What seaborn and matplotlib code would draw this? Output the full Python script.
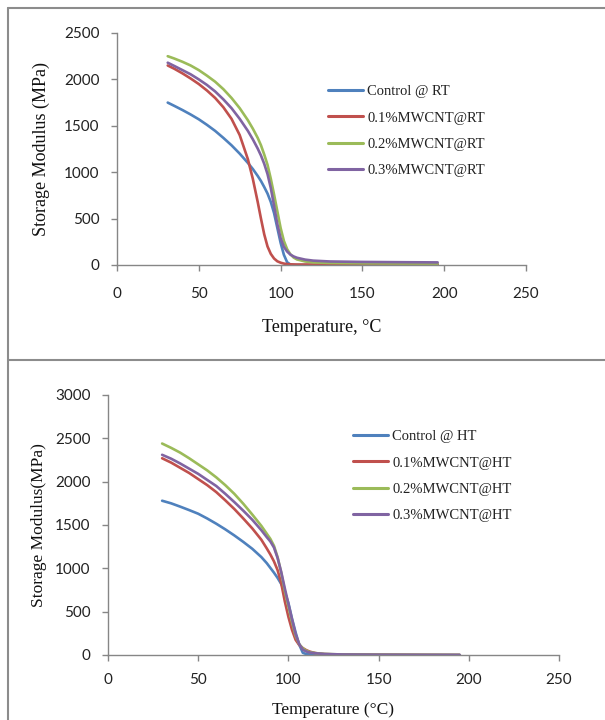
import numpy as np
import pandas as pd
import seaborn as sns
from matplotlib import pyplot as plt
from matplotlib.lines import Line2D

# --- data ---
temp_rt = [31, 35, 40, 45, 50, 55, 60, 65, 70, 75, 80, 83, 86, 88, 90, 92, 94, 96, 98, 100,
           102, 104, 106, 108, 110, 115, 120, 130, 150, 175, 196]
control_rt = [1750, 1715, 1670, 1622, 1570, 1510, 1445, 1370, 1290, 1200, 1100, 1035, 960, 905, 840, 770, 680, 560, 400, 240,
              110, 30, 5, 0, 0, 0, 0, 0, 0, 0, 0]
mwcnt01_rt = [2150, 2115, 2065, 2010, 1950, 1880, 1800, 1700, 1575, 1400, 1140, 930, 680, 500, 330, 200, 120, 70, 40, 25,
              15, 10, 7, 6, 5, 5, 5, 5, 5, 5, 5]
mwcnt02_rt = [2250, 2225, 2190, 2150, 2100, 2040, 1975, 1895, 1800, 1690, 1560, 1470, 1370, 1290, 1190, 1080, 930, 760, 580, 400,
              260, 170, 115, 80, 60, 38, 28, 22, 18, 16, 15]
mwcnt03_rt = [2180, 2145, 2100, 2055, 2000, 1940, 1870, 1785, 1690, 1575, 1445, 1355, 1255, 1180, 1090, 980, 830, 640, 440, 290,
              195, 145, 112, 92, 78, 58, 47, 38, 33, 30, 28]

temp_ht = [30, 35, 40, 45, 50, 55, 60, 65, 70, 75, 80, 85, 88, 90, 92, 94, 96, 98, 100, 102,
           104, 106, 108, 110, 112, 115, 120, 130, 150, 175, 195]
control_ht = [1780, 1750, 1712, 1672, 1630, 1575, 1515, 1450, 1380, 1305, 1225, 1130, 1060, 1005, 950, 890, 820, 730, 600, 420,
              260, 120, 25, 10, 8, 5, 3, 2, 1, 0, 0]
mwcnt01_ht = [2270, 2220, 2160, 2100, 2030, 1960, 1880, 1785, 1685, 1575, 1460, 1330, 1230, 1160, 1080, 980, 830, 620, 440, 290,
              175, 115, 80, 55, 38, 22, 10, 5, 3, 1, 0]
mwcnt02_ht = [2440, 2390, 2335, 2270, 2200, 2130, 2050, 1960, 1860, 1745, 1620, 1490, 1400, 1340, 1260, 1130, 950, 740, 560, 380,
              220, 125, 75, 48, 32, 22, 12, 6, 3, 1, 0]
mwcnt03_ht = [2310, 2265, 2210, 2150, 2090, 2020, 1950, 1860, 1765, 1665, 1560, 1440, 1360, 1310, 1240, 1120, 960, 770, 590, 410,
              240, 125, 62, 40, 28, 20, 12, 6, 3, 1, 0]

labels_rt = ["Control @ RT", "0.1%MWCNT@RT", "0.2%MWCNT@RT", "0.3%MWCNT@RT"]
labels_ht = ["Control @ HT", "0.1%MWCNT@HT", "0.2%MWCNT@HT", "0.3%MWCNT@HT"]
colors = ["#4F81BD", "#C0504D", "#9BBB59", "#8064A2"]

x_ticks = [0, 50, 100, 150, 200, 250]
y_ticks_rt = [0, 500, 1000, 1500, 2000, 2500]
y_ticks_ht = [0, 500, 1000, 1500, 2000, 2500, 3000]


def long_frame(temps, series, names):
    rows = []
    for name, vals in zip(names, series):
        rows.append(pd.DataFrame({"Temperature": temps, "Modulus": vals, "Series": name}))
    return pd.concat(rows, ignore_index=True)


sns.set_style("white")
plt.rcParams["font.family"] = ["Lato", "DejaVu Sans"]

W, H = 605, 720
fig = plt.figure(figsize=(W / 100, H / 100), dpi=100)

serif = "Liberation Serif"
grey = "#868686"


def panel(box, df, names, y_ticks, xlabel, ylabel, label_fs, xpad, leg_xy, xlab_y, ylab_x):
    left, top, right, bottom = box
    ax = fig.add_axes([left / W, 1 - bottom / H, (right - left) / W, (bottom - top) / H])
    sns.lineplot(data=df, x="Temperature", y="Modulus", hue="Series", hue_order=names,
                 palette=colors, linewidth=1.9, ax=ax, legend=True)
    ax.set_xlim(0, 250)
    ax.set_ylim(0, y_ticks[-1])
    ax.set_xticks(x_ticks)
    ax.set_yticks(y_ticks)
    for s in ["top", "right"]:
        ax.spines[s].set_visible(False)
    for s in ["left", "bottom"]:
        ax.spines[s].set_color(grey)
        ax.spines[s].set_linewidth(1.0)
    ax.tick_params(axis="y", direction="out", length=4, width=1, color=grey, pad=8.5, labelsize=11, left=True)
    ax.tick_params(axis="x", direction="out", length=4, width=1, color=grey, pad=xpad, labelsize=11, bottom=True)
    for t in ax.get_xticklabels() + ax.get_yticklabels():
        t.set_color("#222222")

    ax.set_xlabel(xlabel, fontfamily=serif, fontsize=label_fs, color="#111111")
    ax.set_ylabel(ylabel, fontfamily=serif, fontsize=label_fs, color="#111111")
    ax.xaxis.label.set_va("center")
    ax.yaxis.label.set_va("center")
    ax.xaxis.set_label_coords(0.5, (bottom - xlab_y) / (bottom - top))
    ax.yaxis.set_label_coords((ylab_x - left) / (right - left), 0.5)

    handles, labs = ax.get_legend_handles_labels()
    leg = ax.legend(handles, labs, loc="upper left",
                    bbox_to_anchor=(leg_xy[0] / W, 1 - leg_xy[1] / H),
                    bbox_transform=fig.transFigure, frameon=False,
                    borderpad=0, borderaxespad=0, handlelength=2.4,
                    handletextpad=0.3, labelspacing=0.9,
                    prop={"family": serif, "size": 10.5})
    for t in leg.get_texts():
        t.set_color("#222222")
    for h in leg.get_lines():
        h.set_linewidth(2.2)
    return ax


df_rt = long_frame(temp_rt, [control_rt, mwcnt01_rt, mwcnt02_rt, mwcnt03_rt], labels_rt)
df_ht = long_frame(temp_ht, [control_ht, mwcnt01_ht, mwcnt02_ht, mwcnt03_ht], labels_ht)

panel((117, 33, 526, 265), df_rt, labels_rt, y_ticks_rt,
      "Temperature, \u00b0C", "Storage Modulus (MPa)", 13, 12, (328, 85), 328, 41)
panel((108, 395, 559, 655), df_ht, labels_ht, y_ticks_ht,
      "Temperature (\u00b0C)", "Storage Modulus(MPa)", 12.5, 9, (353, 430), 710, 39)

# frame lines around the two panels
frame_kw = dict(color="#8c8c8c", linewidth=1.5, transform=fig.transFigure)
fig.add_artist(Line2D([8 / W, 8 / W], [0, 1 - 8 / H], **frame_kw))
fig.add_artist(Line2D([8 / W, 1], [1 - 8 / H, 1 - 8 / H], **frame_kw))
fig.add_artist(Line2D([8 / W, 1], [1 - 359.5 / H, 1 - 359.5 / H], **frame_kw))

fig.savefig("out.png", dpi=100)
